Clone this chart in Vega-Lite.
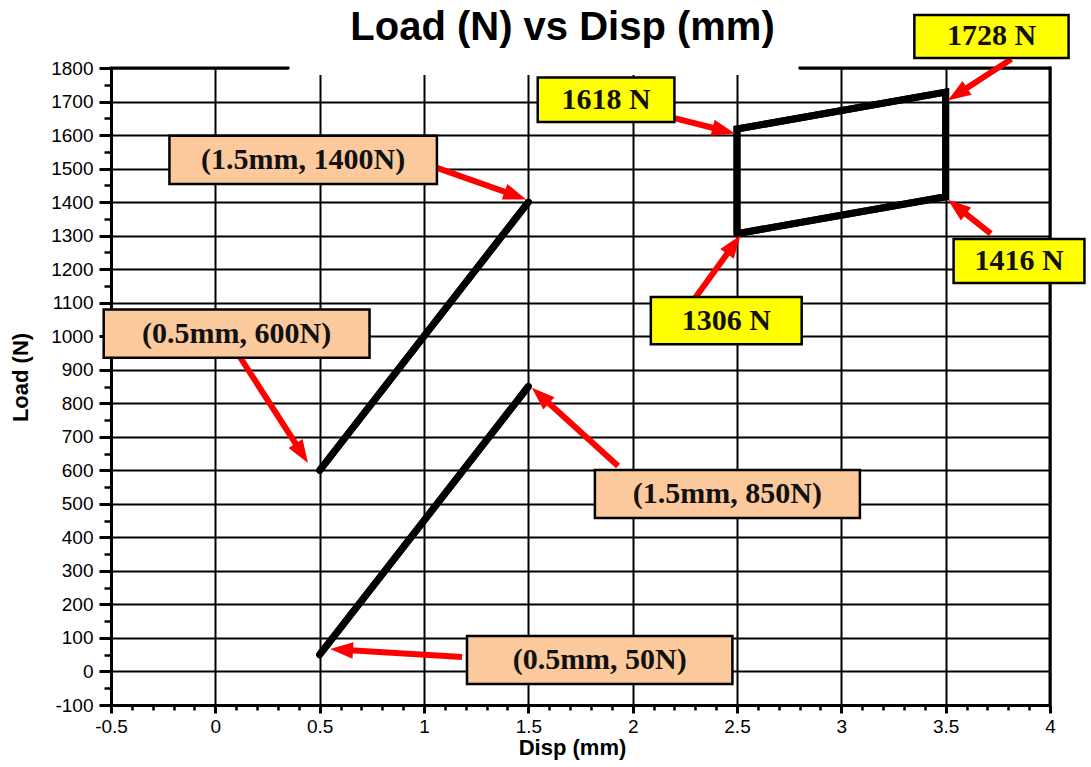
{
  "$schema": "https://vega.github.io/schema/vega-lite/v6.json",
  "width": 939,
  "height": 637,
  "autosize": {"type": "none"},
  "padding": {"left": 111, "top": 68, "right": 41, "bottom": 62},
  "background": "white",
  "config": {"view": {"stroke": null}},
  "title": {
    "text": "Load (N) vs Disp (mm)",
    "font": "Liberation Sans",
    "fontSize": 40,
    "fontWeight": "bold",
    "color": "black",
    "anchor": "middle",
    "frame": "group",
    "baseline": "alphabetic",
    "dx": -18,
    "dy": 66,
    "offset": 0
  },
  "datasets": {
    "lines": [
      {"series": "A", "order": 1, "x": 0.5, "y": 600},
      {"series": "A", "order": 2, "x": 1.5, "y": 1400},
      {"series": "B", "order": 1, "x": 0.5, "y": 50},
      {"series": "B", "order": 2, "x": 1.5, "y": 850},
      {"series": "C", "order": 1, "x": 2.5, "y": 1306},
      {"series": "C", "order": 2, "x": 3.5, "y": 1416},
      {"series": "C", "order": 3, "x": 3.5, "y": 1728},
      {"series": "C", "order": 4, "x": 2.5, "y": 1618},
      {"series": "C", "order": 5, "x": 2.5, "y": 1306}
    ],
    "boxes": [
      {"label": "(1.5mm, 1400N)", "kind": "coord", "x": -0.22, "x2": 1.062, "y": 1598, "y2": 1454},
      {"label": "(0.5mm, 600N)", "kind": "coord", "x": -0.535, "x2": 0.739, "y": 1080, "y2": 936},
      {"label": "(1.5mm, 850N)", "kind": "coord", "x": 1.819, "x2": 3.089, "y": 601, "y2": 458},
      {"label": "(0.5mm, 50N)", "kind": "coord", "x": 1.206, "x2": 2.478, "y": 106, "y2": -37},
      {"label": "1618 N", "kind": "value", "x": 1.545, "x2": 2.2, "y": 1772, "y2": 1639},
      {"label": "1728 N", "kind": "value", "x": 3.35, "x2": 4.089, "y": 1958, "y2": 1830},
      {"label": "1416 N", "kind": "value", "x": 3.538, "x2": 4.165, "y": 1290, "y2": 1159},
      {"label": "1306 N", "kind": "value", "x": 2.087, "x2": 2.81, "y": 1117, "y2": 976}
    ],
    "arrows": [
      {"x": 1.062, "y": 1502, "x2": 1.49, "y2": 1408},
      {"x": 0.118, "y": 938, "x2": 0.444, "y2": 622},
      {"x": 1.93, "y": 613, "x2": 1.517, "y2": 846},
      {"x": 1.182, "y": 43, "x2": 0.55, "y2": 67},
      {"x": 2.195, "y": 1651, "x2": 2.49, "y2": 1605},
      {"x": 3.815, "y": 1827, "x2": 3.51, "y2": 1703},
      {"x": 3.716, "y": 1306, "x2": 3.511, "y2": 1407},
      {"x": 2.3, "y": 1115, "x2": 2.517, "y2": 1301}
    ],
    "gap": [
      {"x": 0.348, "x2": 2.802, "y": 1779, "y2": 1812}
    ],
    "borders": [
      {"x": -0.5, "x2": 0.348, "y": 1800, "y2": 1800},
      {"x": 2.802, "x2": 4, "y": 1800, "y2": 1800},
      {"x": 4, "x2": 4, "y": -100, "y2": 1800}
    ]
  },
  "resolve": {"axis": {"x": "independent", "y": "independent"}},
  "layer": [
    {
      "data": {"name": "lines"},
      "mark": {"type": "line", "color": "black", "strokeWidth": 7, "strokeCap": "round", "strokeJoin": "miter"},
      "encoding": {
        "x": {
          "field": "x", "type": "quantitative",
          "scale": {"domain": [-0.5, 4], "nice": false, "zero": false},
          "axis": {
            "orient": "bottom",
            "values": [-0.5, 0, 0.5, 1, 1.5, 2, 2.5, 3, 3.5, 4],
            "labelExpr": "'' + datum.value",
            "grid": true, "gridColor": "black", "gridWidth": 2, "gridOpacity": 1,
            "domain": true, "domainColor": "black", "domainWidth": 3,
            "ticks": true, "tickColor": "black", "tickSize": 8, "tickWidth": 3,
            "labelFont": "Liberation Sans", "labelFontSize": 19, "labelColor": "black",
            "labelPadding": 4, "labelFlush": false, "labelOverlap": false,
            "title": "Disp (mm)", "titleFont": "Liberation Sans", "titleFontSize": 22,
            "titleFontWeight": "bold", "titleColor": "black",
            "titleX": 461, "titleY": 49, "titleBaseline": "alphabetic", "titleAlign": "center"
          }
        },
        "y": {
          "field": "y", "type": "quantitative",
          "scale": {"domain": [-100, 1800], "nice": false, "zero": false},
          "axis": {
            "orient": "left",
            "values": [-100, 0, 100, 200, 300, 400, 500, 600, 700, 800, 900, 1000, 1100, 1200, 1300, 1400, 1500, 1600, 1700, 1800],
            "labelExpr": "'' + datum.value",
            "grid": true, "gridColor": "black", "gridWidth": 2, "gridOpacity": 1,
            "domain": true, "domainColor": "black", "domainWidth": 3,
            "ticks": true, "tickColor": "black", "tickSize": 12, "tickWidth": 3,
            "labelFont": "Liberation Sans", "labelFontSize": 19, "labelColor": "black",
            "labelPadding": 6, "labelFlush": false, "labelOverlap": false,
            "title": "Load (N)", "titleFont": "Liberation Sans", "titleFontSize": 22,
            "titleFontWeight": "bold", "titleColor": "black",
            "titleAngle": 270, "titleX": -91, "titleY": 309, "titleBaseline": "middle", "titleAlign": "center"
          }
        },
        "detail": {"field": "series"},
        "order": {"field": "order", "type": "quantitative"}
      }
    },
    {
      "data": {"name": "lines"},
      "mark": {"type": "point", "opacity": 0},
      "encoding": {
        "x": {
          "field": "x", "type": "quantitative",
          "scale": {"domain": [-0.5, 4], "nice": false, "zero": false},
          "axis": {
            "orient": "bottom",
            "values": [-0.4, -0.3, -0.2, -0.1, 0.1, 0.2, 0.3, 0.4, 0.6, 0.7, 0.8, 0.9, 1.1, 1.2, 1.3, 1.4, 1.6, 1.7, 1.8, 1.9, 2.1, 2.2, 2.3, 2.4, 2.6, 2.7, 2.8, 2.9, 3.1, 3.2, 3.3, 3.4, 3.6, 3.7, 3.8, 3.9],
            "grid": false, "domain": false, "labels": false,
            "ticks": true, "tickColor": "black", "tickSize": 5, "tickWidth": 2.5,
            "title": null
          }
        },
        "y": {
          "field": "y", "type": "quantitative",
          "scale": {"domain": [-100, 1800], "nice": false, "zero": false},
          "axis": {
            "orient": "left",
            "values": [-50, 50, 150, 250, 350, 450, 550, 650, 750, 850, 950, 1050, 1150, 1250, 1350, 1450, 1550, 1650, 1750],
            "grid": false, "domain": false, "labels": false,
            "ticks": true, "tickColor": "black", "tickSize": 7, "tickWidth": 2.5,
            "title": null
          }
        }
      }
    },
    {
      "data": {"name": "gap"},
      "mark": {"type": "rect", "fill": "white", "strokeWidth": 0},
      "encoding": {
        "x": {"field": "x", "type": "quantitative", "scale": {"domain": [-0.5, 4], "nice": false, "zero": false}, "axis": null},
        "x2": {"field": "x2"},
        "y": {"field": "y", "type": "quantitative", "scale": {"domain": [-100, 1800], "nice": false, "zero": false}, "axis": null},
        "y2": {"field": "y2"}
      }
    },
    {
      "data": {"name": "borders"},
      "mark": {"type": "rule", "color": "black", "strokeWidth": 3, "strokeCap": "square"},
      "encoding": {
        "x": {"field": "x", "type": "quantitative", "scale": {"domain": [-0.5, 4], "nice": false, "zero": false}, "axis": null},
        "x2": {"field": "x2"},
        "y": {"field": "y", "type": "quantitative", "scale": {"domain": [-100, 1800], "nice": false, "zero": false}, "axis": null},
        "y2": {"field": "y2"}
      }
    },
    {
      "data": {"name": "lines"},
      "mark": {"type": "line", "color": "black", "strokeWidth": 7, "strokeCap": "round", "strokeJoin": "miter"},
      "encoding": {
        "x": {"field": "x", "type": "quantitative", "scale": {"domain": [-0.5, 4], "nice": false, "zero": false}, "axis": null},
        "y": {"field": "y", "type": "quantitative", "scale": {"domain": [-100, 1800], "nice": false, "zero": false}, "axis": null},
        "detail": {"field": "series"},
        "order": {"field": "order", "type": "quantitative"}
      }
    },
    {
      "data": {"name": "arrows"},
      "transform": [
        {"calculate": "(datum.x2 - datum.x) * 208.67", "as": "dxs"},
        {"calculate": "(datum.y2 - datum.y) * 0.33526", "as": "dys"},
        {"calculate": "sqrt(datum.dxs * datum.dxs + datum.dys * datum.dys)", "as": "len"},
        {"calculate": "datum.x2 - (datum.x2 - datum.x) * 16 / datum.len", "as": "ex"},
        {"calculate": "datum.y2 - (datum.y2 - datum.y) * 16 / datum.len", "as": "ey"}
      ],
      "mark": {"type": "rule", "color": "#ff0000", "strokeWidth": 6, "strokeCap": "butt"},
      "encoding": {
        "x": {"field": "x", "type": "quantitative", "scale": {"domain": [-0.5, 4], "nice": false, "zero": false}, "axis": null},
        "x2": {"field": "ex"},
        "y": {"field": "y", "type": "quantitative", "scale": {"domain": [-100, 1800], "nice": false, "zero": false}, "axis": null},
        "y2": {"field": "ey"}
      }
    },
    {
      "data": {"name": "arrows"},
      "transform": [
        {"calculate": "atan2((datum.x2 - datum.x) * 208.67, (datum.y2 - datum.y) * 0.33526) * 180 / PI", "as": "ang"}
      ],
      "mark": {"type": "point", "shape": "M0,0L-0.36,1L0.36,1Z", "filled": true, "color": "#ff0000", "opacity": 1, "size": 2116, "strokeWidth": 0},
      "encoding": {
        "x": {"field": "x2", "type": "quantitative", "scale": {"domain": [-0.5, 4], "nice": false, "zero": false}, "axis": null},
        "y": {"field": "y2", "type": "quantitative", "scale": {"domain": [-100, 1800], "nice": false, "zero": false}, "axis": null},
        "angle": {"field": "ang", "type": "quantitative", "scale": null}
      }
    },
    {
      "data": {"name": "boxes"},
      "mark": {"type": "rect", "stroke": "black", "strokeWidth": 2.5},
      "encoding": {
        "x": {"field": "x", "type": "quantitative", "scale": {"domain": [-0.5, 4], "nice": false, "zero": false}, "axis": null},
        "x2": {"field": "x2"},
        "y": {"field": "y", "type": "quantitative", "scale": {"domain": [-100, 1800], "nice": false, "zero": false}, "axis": null},
        "y2": {"field": "y2"},
        "fill": {"field": "kind", "type": "nominal", "scale": {"domain": ["coord", "value"], "range": ["#fbc99b", "#ffff00"]}, "legend": null}
      }
    },
    {
      "data": {"name": "boxes"},
      "transform": [
        {"calculate": "(datum.x + datum.x2) / 2", "as": "cx"},
        {"calculate": "(datum.y + datum.y2) / 2", "as": "cy"}
      ],
      "mark": {"type": "text", "font": "Liberation Serif", "fontWeight": "bold", "fontSize": 30, "color": "#111111", "align": "center", "baseline": "middle"},
      "encoding": {
        "x": {"field": "cx", "type": "quantitative", "scale": {"domain": [-0.5, 4], "nice": false, "zero": false}, "axis": null},
        "y": {"field": "cy", "type": "quantitative", "scale": {"domain": [-100, 1800], "nice": false, "zero": false}, "axis": null},
        "text": {"field": "label"}
      }
    }
  ]
}
